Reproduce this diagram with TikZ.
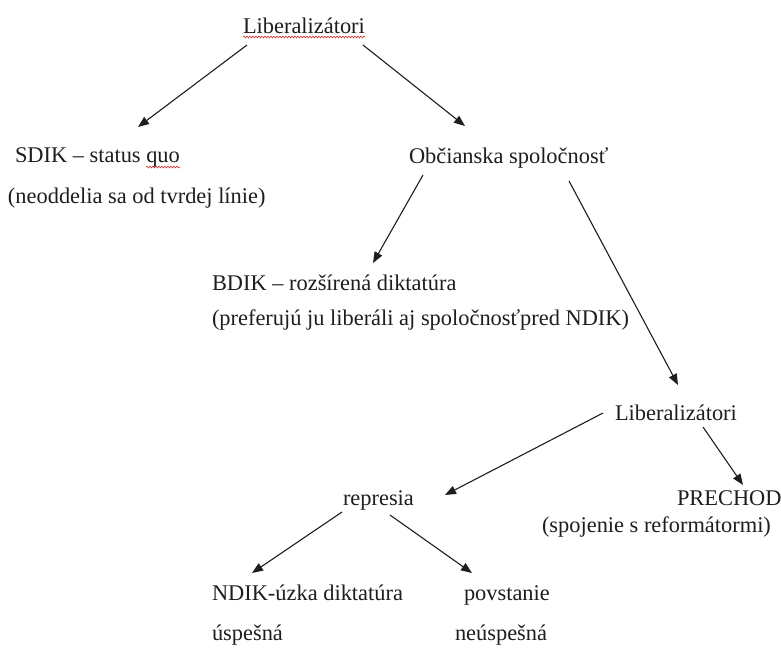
\documentclass[tikz,border=0pt]{standalone}
\usepackage{fontspec}
\setmainfont{Liberation Serif}
\usetikzlibrary{arrows.meta,decorations.pathmorphing}
\definecolor{ink}{HTML}{1E1E1E}
\definecolor{spell}{HTML}{D03030}
\tikzset{
  lbl/.style={anchor=base west,inner sep=0pt,outer sep=0pt,text=ink,font=\fontsize{22.4}{26}\selectfont},
  arr/.style={draw=ink,line width=1.1pt,-{Triangle[length=11pt,width=8.5pt]}},
  wavy/.style={draw=spell,line width=0.6pt,decorate,decoration={snake,amplitude=0.9pt,segment length=3pt}}
}
\begin{document}
\begin{tikzpicture}[x=1pt,y=-1pt]
\useasboundingbox[fill=white] (0,0) rectangle (781,649);
\node[lbl] (lib1) at (243,33) {Liberalizátori};
\node[lbl] (sdik) at (15,162) {SDIK – status quo};
\node[lbl] (neod) at (8,203) {(neoddelia sa od tvrdej línie)};
\node[lbl] (obc) at (409,163) {Občianska spoločnosť};
\node[lbl] (bdik) at (212,290) {BDIK – rozšírená diktatúra};
\node[lbl] (pref) at (212,325) {(preferujú ju liberáli aj spoločnosťpred NDIK)};
\node[lbl] (lib2) at (615,420) {Liberalizátori};
\node[lbl] (repr) at (343,505) {represia};
\node[lbl] (prech) at (677,505) {PRECHOD};
\node[lbl] (spoj) at (542,532) {(spojenie s reformátormi)};
\node[lbl] (ndik) at (212,600) {NDIK-úzka diktatúra};
\node[lbl] (povst) at (464,600) {povstanie};
\node[lbl] (usp) at (212,640) {úspešná};
\node[lbl] (neusp) at (455,640) {neúspešná};
% spell-check underlines
\draw[wavy] ([shift={(0,4)}]lib1.base west) -- ([shift={(0,4)}]lib1.base east);
\draw[wavy] ([shift={(131,5)}]sdik.base west) -- ([shift={(0,5)}]sdik.base east);
% connectors
\draw[arr] ([shift={(4,12)}]lib1.base west) -- ([shift={(123,-35)}]sdik.base west);
\draw[arr] ([shift={(120,12)}]lib1.base west) -- ([shift={(56,-37)}]obc.base west);
\draw[arr] ([shift={(14,12)}]obc.base west) -- ([shift={(161,-27)}]bdik.base west);
\draw[arr] ([shift={(160,18)}]obc.base west) -- ([shift={(63,-35)}]lib2.base west);
\draw[arr] ([shift={(-12,-7)}]lib2.base west) -- ([shift={(102,-10)}]repr.base west);
\draw[arr] ([shift={(88,7)}]lib2.base west) -- ([shift={(66,-20)}]prech.base west);
\draw[arr] ([shift={(-1,7)}]repr.base west) -- ([shift={(40,-27)}]ndik.base west);
\draw[arr] ([shift={(47,10)}]repr.base west) -- ([shift={(8,-27)}]povst.base west);
\end{tikzpicture}
\end{document}
